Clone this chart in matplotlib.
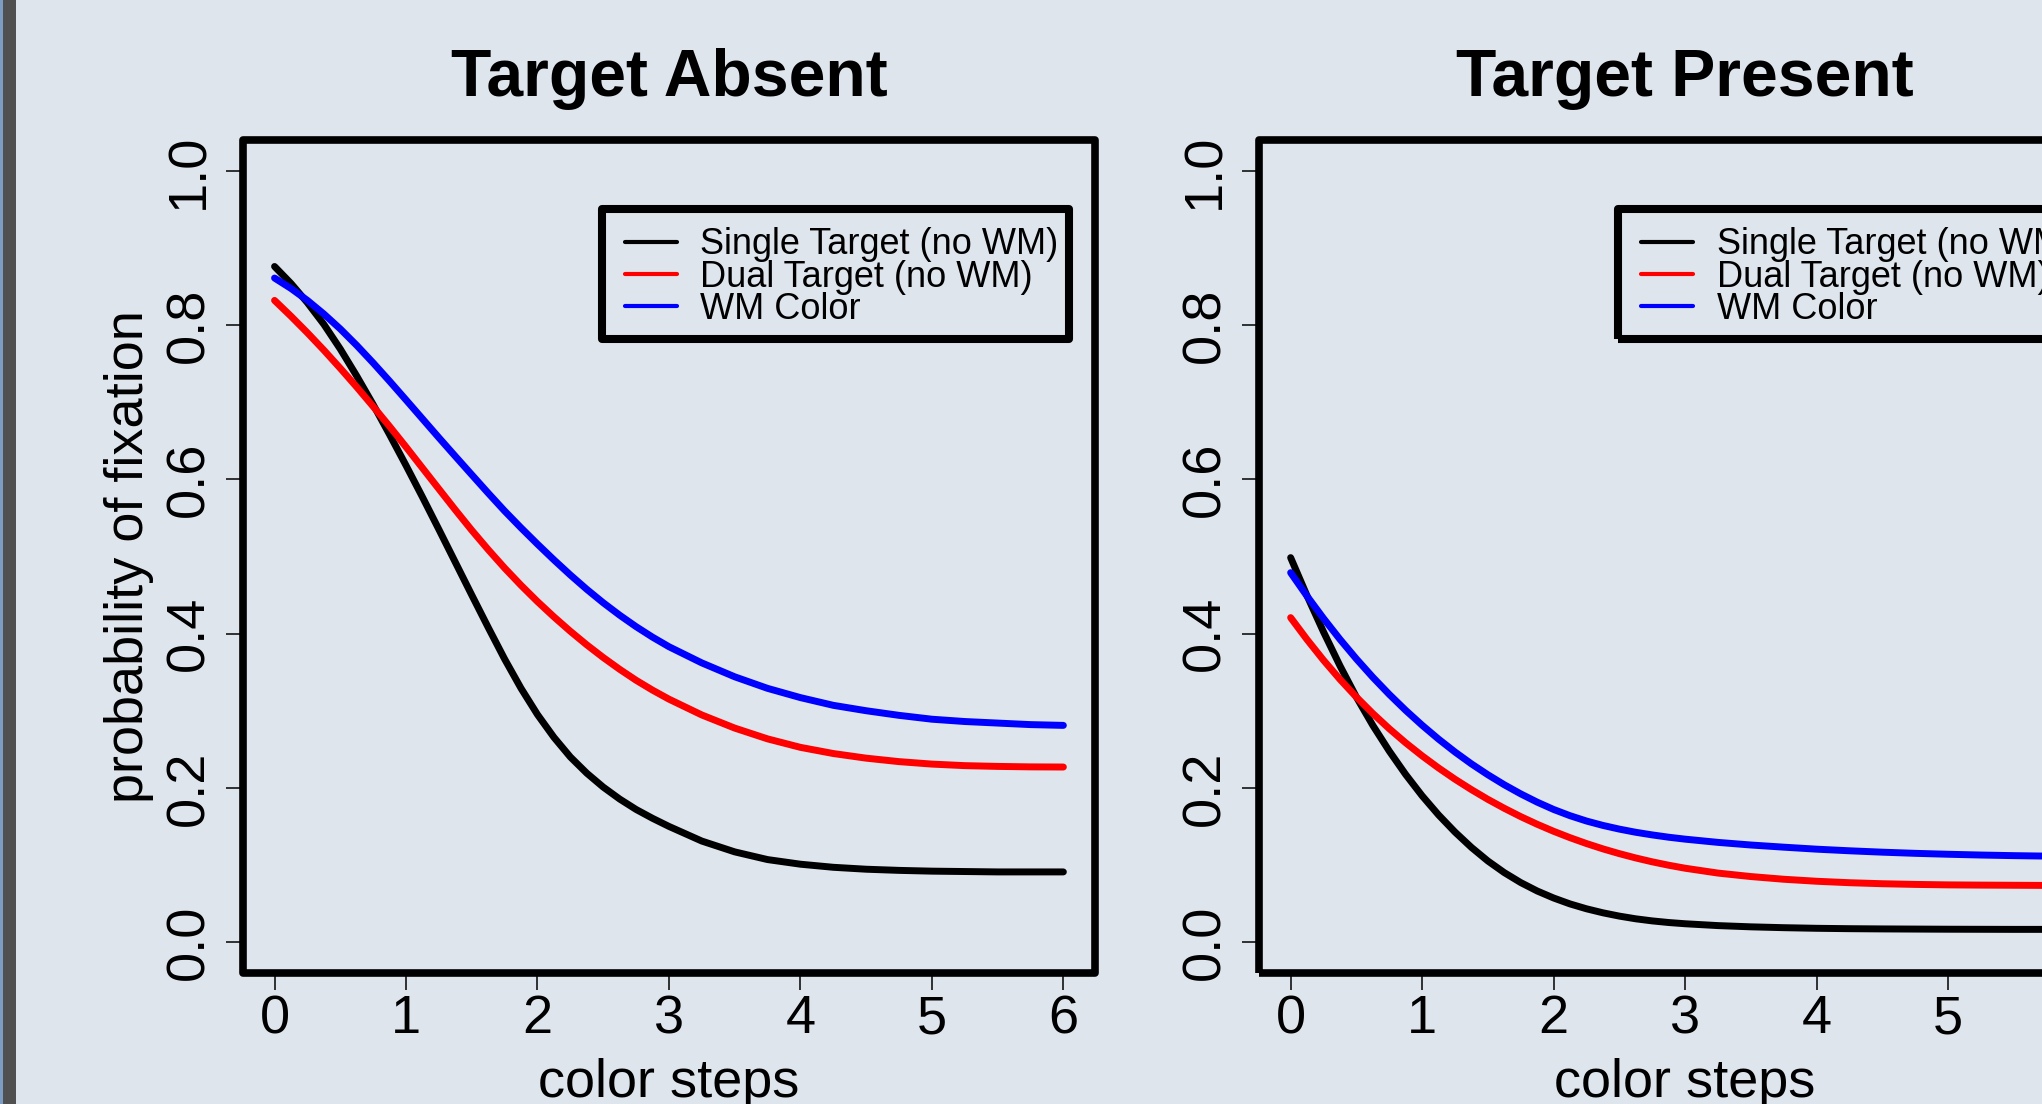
import matplotlib
matplotlib.use("Agg")
import matplotlib.pyplot as plt
from matplotlib.patches import Rectangle

# valores (probabilidade de fixacao vs passos de cor)
# passo fino ate 3 (onde as curvas dobram), depois 0.25
steps = [0.0, 0.125, 0.25, 0.375, 0.5, 0.625, 0.75, 0.875, 1.0, 1.125, 1.25,
         1.375, 1.5, 1.625, 1.75, 1.875, 2.0, 2.125, 2.25, 2.375, 2.5, 2.625,
         2.75, 2.875, 3.0, 3.25, 3.5, 3.75, 4.0, 4.25, 4.5, 4.75, 5.0, 5.25,
         5.5, 5.75, 6.0]

absent_single = [0.876, 0.854, 0.829, 0.801, 0.769, 0.734, 0.697, 0.658, 0.618,
                 0.577, 0.535, 0.4925, 0.450, 0.408, 0.367, 0.329, 0.295, 0.2655,
                 0.240, 0.219, 0.201, 0.1855, 0.172, 0.1605, 0.150, 0.131, 0.117,
                 0.107, 0.101, 0.097, 0.0945, 0.093, 0.092, 0.0915, 0.091, 0.091,
                 0.091]
absent_dual = [0.832, 0.8115, 0.790, 0.7675, 0.744, 0.7197, 0.6945, 0.6686, 0.642,
               0.6147, 0.5875, 0.5604, 0.534, 0.5089, 0.485, 0.4626, 0.4415,
               0.4217, 0.403, 0.3854, 0.369, 0.3537, 0.3395, 0.3267, 0.315,
               0.2945, 0.2775, 0.2635, 0.2525, 0.2445, 0.2385, 0.234, 0.2308,
               0.2288, 0.2278, 0.2272, 0.227]
absent_wm = [0.861, 0.8475, 0.832, 0.8144, 0.795, 0.7737, 0.751, 0.7273, 0.703,
             0.6785, 0.654, 0.6299, 0.606, 0.5822, 0.559, 0.5371, 0.516, 0.4956,
             0.476, 0.4574, 0.440, 0.4239, 0.409, 0.3954, 0.383, 0.362, 0.344,
             0.329, 0.317, 0.307, 0.300, 0.294, 0.289, 0.286, 0.284, 0.282, 0.281]

present_single = [0.4985, 0.4489, 0.4022, 0.3583, 0.3177, 0.2810, 0.2477, 0.2173,
                  0.1897, 0.1649, 0.1427, 0.1228, 0.1052, 0.0901, 0.0772, 0.0663,
                  0.0572, 0.0495, 0.0432, 0.0380, 0.0337, 0.0302, 0.0275, 0.0254,
                  0.0238, 0.0214, 0.0198, 0.0187, 0.0179, 0.0174, 0.0171, 0.0169,
                  0.0167, 0.0166, 0.0165, 0.0165, 0.0165]
present_dual = [0.4207, 0.3922, 0.3655, 0.3407, 0.3177, 0.2964, 0.2767, 0.2584,
                0.2415, 0.2258, 0.2112, 0.1977, 0.1851, 0.1735, 0.1627, 0.1528,
                0.1437, 0.1354, 0.1278, 0.1209, 0.1147, 0.1091, 0.1041, 0.0997,
                0.0958, 0.0895, 0.0850, 0.0815, 0.0789, 0.0770, 0.0757, 0.0748,
                0.0742, 0.0739, 0.0737, 0.0735, 0.0734]
present_wm = [0.479, 0.4485, 0.4197, 0.3926, 0.3672, 0.3434, 0.3212, 0.3005,
              0.2812, 0.2632, 0.2465, 0.2311, 0.217, 0.2040, 0.1922, 0.1815,
              0.172, 0.1639, 0.157, 0.1513, 0.1465, 0.1424, 0.139, 0.1360,
              0.1335, 0.1293, 0.1259, 0.1231, 0.1205, 0.1184, 0.1166, 0.1151,
              0.1139, 0.1129, 0.1121, 0.1115, 0.1111]

labels = ["Single Target (no WM)", "Dual Target (no WM)", "WM Color"]
colors = ["black", "red", "blue"]
titles = ["Target Absent", "Target Present"]
xticks = [0, 1, 2, 3, 4, 5, 6]
yticks = [0.0, 0.2, 0.4, 0.6, 0.8, 1.0]

BG = "#dee5ed"
plt.rcParams["font.family"] = ["Liberation Sans", "DejaVu Sans"]

fig = plt.figure(figsize=(20.42, 11.04), dpi=100, facecolor=BG)

# faixa escura da janela na borda esquerda
fig.patches.append(Rectangle((0, 0), 16 / 2042, 1, transform=fig.transFigure,
                             facecolor="#505050", edgecolor="none", zorder=0))
fig.patches.append(Rectangle((0, 0), 3 / 2042, 1, transform=fig.transFigure,
                             facecolor="#7d9cc4", edgecolor="none", zorder=0))

W, H = 0.4172, 0.7545
panels = [(0.1190, [absent_single, absent_dual, absent_wm]),
          (0.6166, [present_single, present_dual, present_wm])]

for i, (left, series) in enumerate(panels):
    ax = fig.add_axes([left, 0.1187, W, H])
    ax.set_facecolor(BG)
    for z, (ys, c) in enumerate(zip(series, colors)):
        ax.plot(steps, ys, color=c, lw=5.0, solid_capstyle="round",
                solid_joinstyle="round", zorder=3 + z)
    ax.set_xlim(-0.24, 6.24)
    ax.set_ylim(-0.04, 1.04)
    ax.set_xticks(xticks)
    ax.set_xticklabels([str(t) for t in xticks])
    ax.set_yticks(yticks)
    ax.set_yticklabels([f"{t:.1f}" for t in yticks], rotation=90, va="center")
    ax.tick_params(axis="both", direction="out", length=12.5, width=1.1,
                   labelsize=39, colors="black")
    ax.tick_params(axis="x", pad=3)
    ax.tick_params(axis="y", pad=8)
    for s in ax.spines.values():
        s.set_visible(False)
    ax.add_patch(Rectangle((0, 0), 1, 1, transform=ax.transAxes, fill=False,
                           lw=5.5, edgecolor="black", joinstyle="round",
                           clip_on=False, zorder=10))
    ax.set_title(titles[i], fontsize=47.5, fontweight="bold", pad=32)
    ax.set_xlabel("color steps", fontsize=39)
    ax.xaxis.set_label_coords(0.5, -0.102)
    if i == 0:
        ax.set_ylabel("probability of fixation", fontsize=39)
        ax.yaxis.set_label_coords(-0.105, 0.5)

    # legenda desenhada a mao (caixa grossa, linhas apertadas)
    ax.add_patch(Rectangle((0.4214, 0.761), 0.9695 - 0.4214, 0.9172 - 0.761,
                           transform=ax.transAxes, fill=False, lw=5.8,
                           edgecolor="black", joinstyle="round",
                           clip_on=False, zorder=10))
    for y, lab, c in zip([0.8779, 0.8391, 0.8007], labels, colors):
        ax.plot([0.4484, 0.5094], [y, y], transform=ax.transAxes, color=c,
                lw=3.0, solid_capstyle="round", clip_on=False, zorder=11)
        ax.text(0.5370, y - 0.0152, lab, transform=ax.transAxes, fontsize=26,
                va="baseline", ha="left", zorder=11)

fig.savefig("out.png", dpi=100, facecolor=BG)
